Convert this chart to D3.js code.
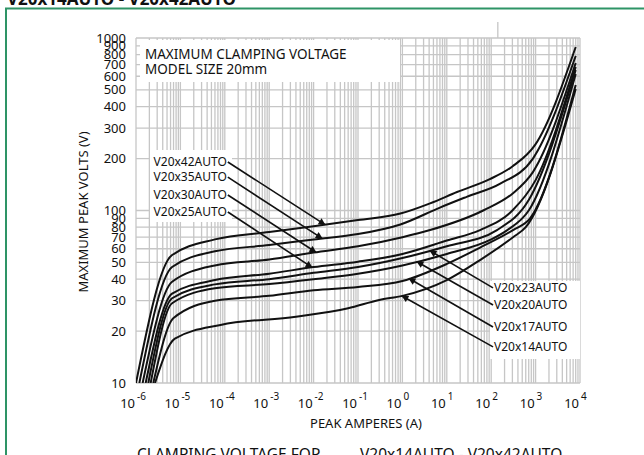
<!DOCTYPE html>
<html><head><meta charset="utf-8">
<script src="https://cdn.jsdelivr.net/npm/d3@7"></script>
<style>
body{margin:0;background:#fff}
svg{display:block}
text{font-family:"Noto Sans",sans-serif;fill:#111}
</style>
</head><body>
<svg id="chart" width="644" height="455"></svg>
<script>
// ---------- data ----------
const seriesNames = ["V20x42AUTO","V20x35AUTO","V20x30AUTO","V20x25AUTO","V20x23AUTO","V20x20AUTO","V20x17AUTO","V20x14AUTO"];
// [peak amperes, max peak volts]
const v42 = [[1.0e-6,10],[6.4e-6,55],[6e-5,68],[1e-3,75],[1e-2,81],[1e-1,88],[0.9,96],[4.2,110],[17,128],[93,152],[300,180],[975,240],[8000,887]];
const v35 = [[1.19e-6,10],[6.5e-6,47],[6e-5,58],[1e-3,63],[1e-2,68],[1e-1,73],[0.9,83],[7,104],[28,120],[160,143],[870,200],[8000,787]];
const v30 = [[1.41e-6,10],[6.5e-6,38.6],[6e-5,48],[1e-3,52],[1e-2,57],[1e-1,62],[1,70],[4.2,77],[66,100],[310,126],[870,167],[8000,716]];
const v25 = [[1.65e-6,10],[6.5e-6,33],[6e-5,39.5],[1e-3,43],[1e-2,47],[1e-1,50.5],[1,56],[10,67],[56,77],[300,100],[1000,150],[8000,679]];
const v23 = [[1.89e-6,10],[6.5e-6,31],[6e-5,37.3],[1e-3,40],[1e-2,43.5],[1e-1,47],[1,53],[10,62],[135,77],[700,115],[8000,652]];
const v20 = [[2.14e-6,10],[6.5e-6,29],[6e-5,35.4],[1e-3,37.5],[1e-2,40],[1e-1,43],[1,48],[10,56],[100,68],[230,77],[700,100],[8000,618]];
const v17 = [[2.45e-6,10],[7e-6,23.8],[6e-5,30],[1e-3,32],[1e-2,34.5],[1e-1,36],[1,39],[10,49],[56,61],[310,77],[750,90],[8000,534]];
const v14 = [[2.68e-6,10],[7.5e-6,18.1],[8e-5,21.7],[4e-3,24.2],[6e-2,27.1],[3e-1,30.3],[1,32],[10,39.5],[56,51.6],[310,70],[600,80],[8000,506]];
const seriesData = [v42,v35,v30,v25,v23,v20,v17,v14];

const yTicks = [10,20,30,40,50,60,70,80,90,100,200,300,400,500,600,700,800,900,1000];
const xExponents = [-6,-5,-4,-3,-2,-1,0,1,2,3,4];

// annotations: label anchor (amps, volts) and arrow target amps
const leftLabels = ["V20x42AUTO","V20x35AUTO","V20x30AUTO","V20x25AUTO"];
const leftLabelAmps = 1.17e-4;
const leftLabelVolts = [191,156,123,98];
const leftTargetAmps = [0.018,0.0155,0.0113,0.0092];
const rightLabels = ["V20x23AUTO","V20x20AUTO","V20x17AUTO","V20x14AUTO"];
const rightLabelAmps = 110;
const rightLabelVolts = [35.6,28.3,21.1,16.2];
const rightTargetAmps = [4.19,2.13,1.41,0.98];

// ---------- layout ----------
const svg = d3.select("#chart");
const L = 136, R = 580, T = 38, B = 383;
const x = d3.scaleLog().domain([1e-6,1e4]).range([L,R]);
const y = d3.scaleLog().domain([10,1000]).range([B,T]);
const gridColor = "#c6c6c6";

// green frame + cut-off header
svg.append("text").attr("x",7).attr("y",5).attr("font-size",17).attr("font-weight","bold")
  .text("V20x14AUTO - V20x42AUTO");
svg.append("rect").attr("x",6).attr("y",8.5).attr("width",660).attr("height",470)
  .attr("fill","none").attr("stroke","#2e9466").attr("stroke-width",2);

// gridlines
const xGrid = [];
for (let e=-6;e<4;e++) for (let k=1;k<10;k++) xGrid.push(k*Math.pow(10,e));
xGrid.push(1e4);
const g = svg.append("g");
g.selectAll("line.vx").data(xGrid).join("line")
  .attr("x1",d=>x(d)).attr("x2",d=>x(d)).attr("y1",T).attr("y2",B)
  .attr("stroke",gridColor).attr("stroke-width",1.3);
g.selectAll("line.hy").data(yTicks).join("line")
  .attr("x1",L).attr("x2",R).attr("y1",d=>y(d)).attr("y2",d=>y(d))
  .attr("stroke",gridColor).attr("stroke-width",1.3);
// small stray tick above frame
g.append("line").attr("x1",x(141)).attr("x2",x(141)).attr("y1",T-16).attr("y2",T)
  .attr("stroke",gridColor).attr("stroke-width",1.3);

// white boxes behind texts
svg.append("rect").attr("x",140).attr("y",T+2).attr("width",260).attr("height",42).attr("fill","#fff");
svg.append("rect").attr("x",150).attr("y",150).attr("width",82).attr("height",72).attr("fill","#fff");
svg.append("rect").attr("x",490).attr("y",281).attr("width",90).attr("height",78).attr("fill","#fff");

svg.append("text").attr("x",145).attr("y",59).attr("font-size",13.5).text("MAXIMUM CLAMPING VOLTAGE");
svg.append("text").attr("x",145).attr("y",74).attr("font-size",13.5).text("MODEL SIZE 20mm");

// y tick labels
svg.append("g").selectAll("text").data(yTicks).join("text")
  .attr("x",126).attr("y",d=>y(d)+4.5).attr("text-anchor","end").attr("font-size",13)
  .text(d=>d);
// x tick labels
const xl = svg.append("g").selectAll("g").data(xExponents).join("g");
xl.append("text").attr("x",e=>x(Math.pow(10,e))-1).attr("y",408).attr("text-anchor","end")
  .attr("font-size",13).text("10");
xl.append("text").attr("x",e=>x(Math.pow(10,e))+1).attr("y",400).attr("text-anchor","start")
  .attr("font-size",10).text(e=>e<0?"-"+(-e):String(e));

// axis titles
svg.append("text").attr("x",366).attr("y",428).attr("text-anchor","middle").attr("font-size",13)
  .text("PEAK AMPERES (A)");
svg.append("text").attr("transform","translate(88,212) rotate(-90)").attr("text-anchor","middle")
  .attr("font-size",13).text("MAXIMUM PEAK VOLTS (V)");
// bottom cut-off caption
svg.append("text").attr("x",137).attr("y",460).attr("font-size",15.5).text("CLAMPING VOLTAGE FOR");
svg.append("text").attr("x",360).attr("y",460).attr("font-size",15.5).text("V20x14AUTO - V20x42AUTO");

// curves
svg.append("clipPath").attr("id","clip").append("rect")
  .attr("x",L).attr("y",T).attr("width",R-L).attr("height",B-T);
const line = d3.line().x(d=>x(d[0])).y(d=>y(d[1])).curve(d3.curveMonotoneX);
svg.append("g").attr("clip-path","url(#clip)").selectAll("path").data(seriesData).join("path")
  .attr("d",line).attr("fill","none").attr("stroke","#111").attr("stroke-width",2);

// interpolation in log-log to put arrow tips on curves
function voltsAt(series, amps){
  const la = Math.log10(amps);
  for (let i=0;i<series.length-1;i++){
    const a0=Math.log10(series[i][0]), a1=Math.log10(series[i+1][0]);
    if (la>=a0 && la<=a1){
      const t=(la-a0)/(a1-a0);
      return Math.pow(10, Math.log10(series[i][1])+t*(Math.log10(series[i+1][1])-Math.log10(series[i][1])));
    }
  }
  return series[series.length-1][1];
}
const defs = svg.append("defs");
defs.append("marker").attr("id","ah").attr("viewBox","0 0 10 10").attr("refX",9).attr("refY",5)
  .attr("markerWidth",9).attr("markerHeight",7).attr("markerUnits","userSpaceOnUse").attr("orient","auto")
  .append("path").attr("d","M0,0L10,5L0,10Z").attr("fill","#111");

function annotate(names, la, lv, ta, side){
  names.forEach((n,i)=>{
    const s = seriesData[seriesNames.indexOf(n)];
    const tv = voltsAt(s, ta[i]);
    const x0=x(la), y0=y(lv[i]);
    svg.append("line").attr("x1",x0).attr("y1",y0).attr("x2",x(ta[i])).attr("y2",y(tv))
      .attr("stroke","#111").attr("stroke-width",1.6).attr("marker-end","url(#ah)");
    svg.append("text").attr("x", side==="left"? x0-1 : x0+1).attr("y",y0+4)
      .attr("text-anchor", side==="left"?"end":"start").attr("font-size",12).text(n);
  });
}
annotate(leftLabels,leftLabelAmps,leftLabelVolts,leftTargetAmps,"left");
annotate(rightLabels,rightLabelAmps,rightLabelVolts,rightTargetAmps,"right");
</script>
</body></html>
